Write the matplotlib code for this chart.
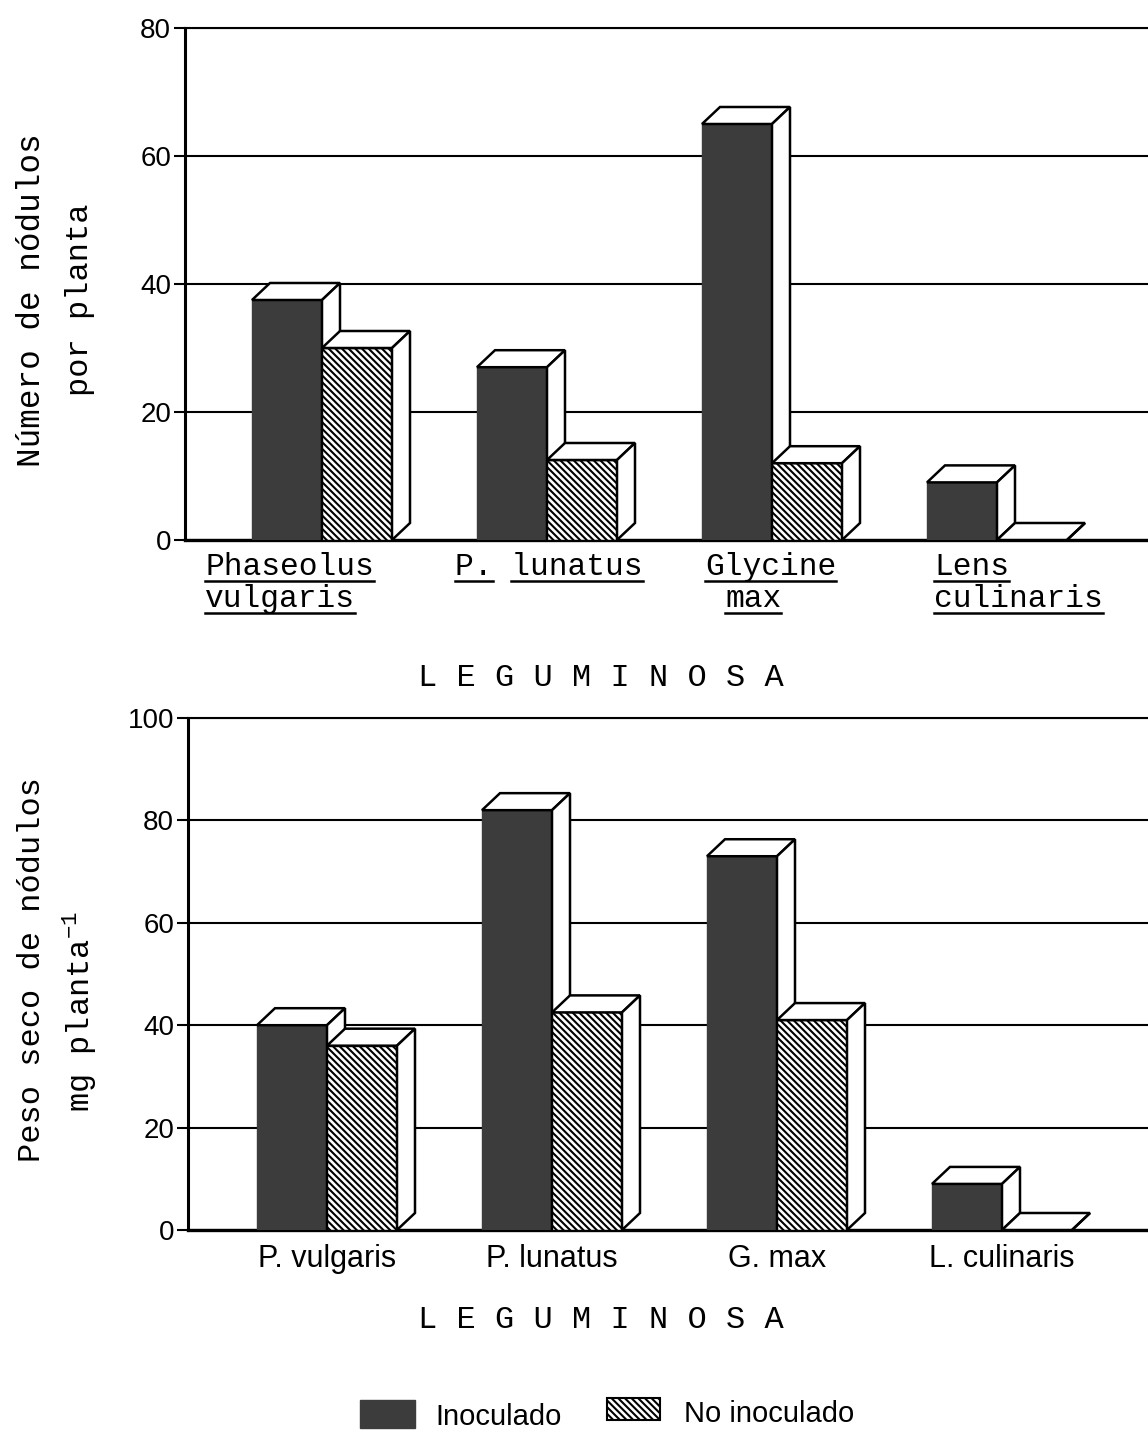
import matplotlib
matplotlib.use('Agg')
import matplotlib.pyplot as plt
from matplotlib.patches import Rectangle, Polygon
from matplotlib.transforms import blended_transform_factory

# datos: nodulación de cuatro leguminosas, inoculadas y sin inocular
grupos_sup = [['Phaseolus', 'vulgaris'], ['P. lunatus'], ['Glycine', 'max'], ['Lens', 'culinaris']]
grupos_inf = ['P. vulgaris', 'P. lunatus', 'G. max', 'L. culinaris']
nodulos_inoc = [37.5, 27, 65, 9]
nodulos_no = [30, 12.5, 12, 0]
peso_inoc = [40, 82, 73, 9]
peso_no = [36, 42.5, 41, 0]

W, H = 1148, 1430
OSCURO = '#3c3c3c'
RAYADO = '\\\\\\\\\\'
MONO = ['Liberation Mono', 'DejaVu Sans Mono']
SANS = ['Liberation Sans Narrow', 'Liberation Sans', 'DejaVu Sans']

plt.rcParams['hatch.linewidth'] = 1.5
plt.rcParams['mathtext.fontset'] = 'custom'
plt.rcParams['mathtext.rm'] = 'Liberation Mono'

fig = plt.figure(figsize=(W / 100, H / 100), dpi=100)


def fx(px):
    return px / W


def fy(py):
    return 1 - py / H


def caja(ax, x0, w, h, dx, dy, color, hatch=None):
    # cara frontal
    if hatch:
        ax.add_patch(Rectangle((x0, 0), w, h, facecolor='white', edgecolor='black',
                               hatch=hatch, lw=1.0, zorder=3))
    else:
        ax.add_patch(Rectangle((x0, 0), w, h, facecolor=color, edgecolor=color,
                               lw=1.0, zorder=3))
    # tapa
    ax.add_patch(Polygon([(x0, h), (x0 + w, h), (x0 + w + dx, h + dy), (x0 + dx, h + dy)],
                         closed=True, facecolor='white', edgecolor='black', lw=1.8, zorder=3))
    # lateral
    ax.add_patch(Polygon([(x0 + w, 0), (x0 + w + dx, dy), (x0 + w + dx, h + dy), (x0 + w, h)],
                         closed=True, facecolor='white', edgecolor='black', lw=1.8, zorder=3))


def panel(left_px, top_px, bottom_px, centro0_px, ymax, inoc, no):
    sep = 225.0
    ax = fig.add_axes([fx(left_px), fy(bottom_px), 1 - fx(left_px), (bottom_px - top_px) / H])
    x_min = (left_px - centro0_px) / sep
    x_max = (W - centro0_px) / sep
    ax.set_xlim(x_min, x_max)
    ax.set_ylim(0, ymax)
    ancho = 70 / sep
    dx = 18 / sep
    dy = 17 * ymax / (bottom_px - top_px)
    for i in range(len(inoc)):
        caja(ax, i - ancho, ancho, inoc[i], dx, dy, OSCURO)
        caja(ax, i, ancho, no[i], dx, dy, OSCURO, hatch=RAYADO)
    ax.set_yticks(range(0, ymax + 1, 20))
    ax.grid(axis='y', color='black', lw=1.5, zorder=1)
    ax.set_axisbelow(True)
    ax.spines['right'].set_visible(False)
    ax.spines['left'].set_linewidth(2.2)
    ax.spines['bottom'].set_linewidth(2.4)
    ax.spines['top'].set_linewidth(1.5)
    ax.tick_params(axis='y', length=8, width=1.5, pad=2, labelsize=20)
    for t in ax.get_yticklabels():
        t.set_family(['Liberation Sans', 'DejaVu Sans'])
    ax.tick_params(axis='x', length=0)
    return ax


# --- Número de nódulos ---
ax1 = panel(185, 28, 540, 322, 80, nodulos_inoc, nodulos_no)
ax1.set_xticks([])

# etiquetas subrayadas en máquina de escribir
izq_px = [[205, 205], [455], [705, 725], [934, 934]]
base_px = [575, 607]
trans = blended_transform_factory(ax1.transData, fig.transFigure)
textos = []
for i, lineas in enumerate(grupos_sup):
    for j, linea in enumerate(lineas):
        x_dato = i + (izq_px[i][j] - (322 + 225 * i)) / 225.0
        t = fig.text(x_dato, fy(base_px[j]), linea, transform=trans, family=MONO,
                     fontsize=22.5, ha='left', va='baseline')
        textos.append((t, linea, base_px[j]))

fig.canvas.draw()
rend = fig.canvas.get_renderer()
for t, linea, base in textos:
    bb = t.get_window_extent(rend)
    cw = bb.width / len(linea)
    pos = 0
    for palabra in linea.split(' '):
        if palabra:
            x0 = bb.x0 + pos * cw
            x1 = x0 + len(palabra) * cw
            fig.add_artist(plt.Line2D([x0 / W, x1 / W], [fy(base + 6)] * 2,
                                      transform=fig.transFigure, color='black', lw=1.8))
        pos += len(palabra) + 1

fig.text(fx(601), fy(678), 'L E G U M I N O S A', family=MONO, fontsize=23,
         ha='center', va='center')
fig.text(fx(32), fy(300), 'Número de nódulos', family=MONO, fontsize=23.5,
         rotation=90, ha='center', va='center')
fig.text(fx(80), fy(300), 'por planta', family=MONO, fontsize=23,
         rotation=90, ha='center', va='center')

# --- Peso seco de nódulos ---
ax2 = panel(188, 718, 1230, 327, 100, peso_inoc, peso_no)
ax2.set_xticks(range(len(grupos_inf)))
ax2.set_xticklabels(grupos_inf, fontsize=22, family=SANS)
ax2.tick_params(axis='x', pad=10)

fig.text(fx(601), fy(1320), 'L E G U M I N O S A', family=MONO, fontsize=23,
         ha='center', va='center')
fig.text(fx(32), fy(970), 'Peso seco de nódulos', family=MONO, fontsize=23,
         rotation=90, ha='center', va='center')
fig.text(fx(80), fy(1012), 'mg planta$^{-1}$', family=MONO, fontsize=23,
         rotation=90, ha='center', va='center')

# leyenda
fig.add_artist(Rectangle((fx(360), fy(1428)), fx(55), 28 / H, transform=fig.transFigure,
                         facecolor=OSCURO, edgecolor=OSCURO))
fig.text(fx(435), fy(1417), 'Inoculado', family=SANS, fontsize=21, ha='left', va='center')
fig.add_artist(Rectangle((fx(607), fy(1420)), fx(53), 22 / H, transform=fig.transFigure,
                         facecolor='white', edgecolor='black', hatch=RAYADO, lw=1.5))
fig.text(fx(684), fy(1414), 'No inoculado', family=SANS, fontsize=21, ha='left', va='center')

fig.savefig('out.png', dpi=100)
